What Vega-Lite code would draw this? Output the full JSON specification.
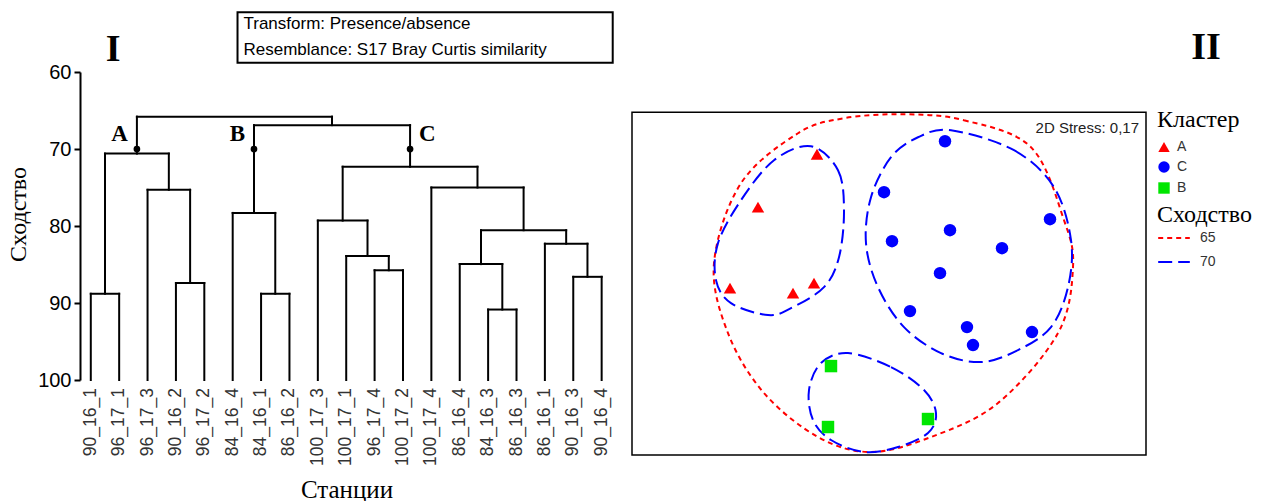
{
  "$schema": "https://vega.github.io/schema/vega-lite/v6.json",
  "padding": {"left": 6, "top": 11, "right": 0, "bottom": 0},
  "background": "white",
  "config": {"view": {"stroke": null}},
  "spacing": 17,
  "datasets": {
    "leaves": [
      {"i": 0, "name": "90_16_1"}, {"i": 1, "name": "96_17_1"}, {"i": 2, "name": "96_17_3"}, {"i": 3, "name": "90_16_2"},
      {"i": 4, "name": "96_17_2"}, {"i": 5, "name": "84_16_4"}, {"i": 6, "name": "84_16_1"}, {"i": 7, "name": "86_16_2"},
      {"i": 8, "name": "100_17_3"}, {"i": 9, "name": "100_17_1"}, {"i": 10, "name": "96_17_4"}, {"i": 11, "name": "100_17_2"},
      {"i": 12, "name": "100_17_4"}, {"i": 13, "name": "86_16_4"}, {"i": 14, "name": "84_16_3"}, {"i": 15, "name": "86_16_3"},
      {"i": 16, "name": "86_16_1"}, {"i": 17, "name": "90_16_3"}, {"i": 18, "name": "90_16_4"}
    ],
    "dendro": [
      {"x": 0, "x2": 1, "y": 88.8, "y2": 88.8}, {"x": 0, "x2": 0, "y": 100, "y2": 88.8}, {"x": 1, "x2": 1, "y": 100, "y2": 88.8},
      {"x": 3, "x2": 4, "y": 87.4, "y2": 87.4}, {"x": 3, "x2": 3, "y": 100, "y2": 87.4}, {"x": 4, "x2": 4, "y": 100, "y2": 87.4},
      {"x": 2, "x2": 3.5, "y": 75.3, "y2": 75.3}, {"x": 2, "x2": 2, "y": 100, "y2": 75.3}, {"x": 3.5, "x2": 3.5, "y": 87.4, "y2": 75.3},
      {"x": 0.5, "x2": 2.75, "y": 70.6, "y2": 70.6}, {"x": 0.5, "x2": 0.5, "y": 88.8, "y2": 70.6}, {"x": 2.75, "x2": 2.75, "y": 75.3, "y2": 70.6},
      {"x": 6, "x2": 7, "y": 88.8, "y2": 88.8}, {"x": 6, "x2": 6, "y": 100, "y2": 88.8}, {"x": 7, "x2": 7, "y": 100, "y2": 88.8},
      {"x": 5, "x2": 6.5, "y": 78.3, "y2": 78.3}, {"x": 5, "x2": 5, "y": 100, "y2": 78.3}, {"x": 6.5, "x2": 6.5, "y": 88.8, "y2": 78.3},
      {"x": 10, "x2": 11, "y": 85.75, "y2": 85.75}, {"x": 10, "x2": 10, "y": 100, "y2": 85.75}, {"x": 11, "x2": 11, "y": 100, "y2": 85.75},
      {"x": 9, "x2": 10.5, "y": 83.9, "y2": 83.9}, {"x": 9, "x2": 9, "y": 100, "y2": 83.9}, {"x": 10.5, "x2": 10.5, "y": 85.75, "y2": 83.9},
      {"x": 8, "x2": 9.75, "y": 79.3, "y2": 79.3}, {"x": 8, "x2": 8, "y": 100, "y2": 79.3}, {"x": 9.75, "x2": 9.75, "y": 83.9, "y2": 79.3},
      {"x": 14, "x2": 15, "y": 90.85, "y2": 90.85}, {"x": 14, "x2": 14, "y": 100, "y2": 90.85}, {"x": 15, "x2": 15, "y": 100, "y2": 90.85},
      {"x": 13, "x2": 14.5, "y": 84.95, "y2": 84.95}, {"x": 13, "x2": 13, "y": 100, "y2": 84.95}, {"x": 14.5, "x2": 14.5, "y": 90.85, "y2": 84.95},
      {"x": 17, "x2": 18, "y": 86.6, "y2": 86.6}, {"x": 17, "x2": 17, "y": 100, "y2": 86.6}, {"x": 18, "x2": 18, "y": 100, "y2": 86.6},
      {"x": 16, "x2": 17.5, "y": 82.3, "y2": 82.3}, {"x": 16, "x2": 16, "y": 100, "y2": 82.3}, {"x": 17.5, "x2": 17.5, "y": 86.6, "y2": 82.3},
      {"x": 13.75, "x2": 16.75, "y": 80.55, "y2": 80.55}, {"x": 13.75, "x2": 13.75, "y": 84.95, "y2": 80.55}, {"x": 16.75, "x2": 16.75, "y": 82.3, "y2": 80.55},
      {"x": 12, "x2": 15.25, "y": 75.0, "y2": 75.0}, {"x": 12, "x2": 12, "y": 100, "y2": 75.0}, {"x": 15.25, "x2": 15.25, "y": 80.55, "y2": 75.0},
      {"x": 8.875, "x2": 13.625, "y": 72.3, "y2": 72.3}, {"x": 8.875, "x2": 8.875, "y": 79.3, "y2": 72.3}, {"x": 13.625, "x2": 13.625, "y": 75.0, "y2": 72.3},
      {"x": 5.75, "x2": 11.25, "y": 66.9, "y2": 66.9}, {"x": 5.75, "x2": 5.75, "y": 78.3, "y2": 66.9}, {"x": 11.25, "x2": 11.25, "y": 72.3, "y2": 66.9},
      {"x": 1.625, "x2": 8.5, "y": 65.8, "y2": 65.8}, {"x": 1.625, "x2": 1.625, "y": 70.6, "y2": 65.8}, {"x": 8.5, "x2": 8.5, "y": 66.9, "y2": 65.8}
    ],
    "nodes": [
      {"cluster": "A", "x": 1.625, "y": 70},
      {"cluster": "B", "x": 5.75, "y": 70},
      {"cluster": "C", "x": 11.25, "y": 70}
    ],
    "nmds": [
      {"cluster": "A", "x": -0.72, "y": 1.28}, {"cluster": "A", "x": -1.31, "y": 0.75}, {"cluster": "A", "x": -1.59, "y": -0.06},
      {"cluster": "A", "x": -0.96, "y": -0.11}, {"cluster": "A", "x": -0.75, "y": -0.01},
      {"cluster": "C", "x": 0.56, "y": 1.41}, {"cluster": "C", "x": -0.05, "y": 0.90}, {"cluster": "C", "x": 1.61, "y": 0.63},
      {"cluster": "C", "x": 0.61, "y": 0.52}, {"cluster": "C", "x": 0.03, "y": 0.41}, {"cluster": "C", "x": 1.13, "y": 0.34},
      {"cluster": "C", "x": 0.51, "y": 0.09}, {"cluster": "C", "x": 0.21, "y": -0.29}, {"cluster": "C", "x": 0.78, "y": -0.45},
      {"cluster": "C", "x": 1.43, "y": -0.50}, {"cluster": "C", "x": 0.84, "y": -0.63},
      {"cluster": "B", "x": -0.58, "y": -0.84}, {"cluster": "B", "x": -0.61, "y": -1.45}, {"cluster": "B", "x": 0.39, "y": -1.37}
    ],
    "contours": [
      {"contour": "all", "level": "65", "i": 0, "x": 0.15, "y": 1.68},
      {"contour": "all", "level": "65", "i": 1, "x": 0.75, "y": 1.62},
      {"contour": "all", "level": "65", "i": 2, "x": 1.42, "y": 1.35},
      {"contour": "all", "level": "65", "i": 3, "x": 1.75, "y": 0.62},
      {"contour": "all", "level": "65", "i": 4, "x": 1.84, "y": 0.15},
      {"contour": "all", "level": "65", "i": 5, "x": 1.69, "y": -0.51},
      {"contour": "all", "level": "65", "i": 6, "x": 1.09, "y": -1.21},
      {"contour": "all", "level": "65", "i": 7, "x": 0.42, "y": -1.55},
      {"contour": "all", "level": "65", "i": 8, "x": -0.18, "y": -1.70},
      {"contour": "all", "level": "65", "i": 9, "x": -0.71, "y": -1.55},
      {"contour": "all", "level": "65", "i": 10, "x": -1.25, "y": -1.11},
      {"contour": "all", "level": "65", "i": 11, "x": -1.61, "y": -0.51},
      {"contour": "all", "level": "65", "i": 12, "x": -1.75, "y": 0.19},
      {"contour": "all", "level": "65", "i": 13, "x": -1.48, "y": 0.99},
      {"contour": "all", "level": "65", "i": 14, "x": -0.91, "y": 1.49},
      {"contour": "all", "level": "65", "i": 15, "x": -0.45, "y": 1.64},
      {"contour": "A", "level": "70", "i": 0, "x": -0.78, "y": 1.36},
      {"contour": "A", "level": "70", "i": 1, "x": -0.51, "y": 1.12},
      {"contour": "A", "level": "70", "i": 2, "x": -0.45, "y": 0.72},
      {"contour": "A", "level": "70", "i": 3, "x": -0.50, "y": 0.25},
      {"contour": "A", "level": "70", "i": 4, "x": -0.65, "y": -0.05},
      {"contour": "A", "level": "70", "i": 5, "x": -0.98, "y": -0.26},
      {"contour": "A", "level": "70", "i": 6, "x": -1.21, "y": -0.33},
      {"contour": "A", "level": "70", "i": 7, "x": -1.58, "y": -0.21},
      {"contour": "A", "level": "70", "i": 8, "x": -1.73, "y": 0.02},
      {"contour": "A", "level": "70", "i": 9, "x": -1.71, "y": 0.39},
      {"contour": "A", "level": "70", "i": 10, "x": -1.48, "y": 0.82},
      {"contour": "A", "level": "70", "i": 11, "x": -1.15, "y": 1.22},
      {"contour": "C", "level": "70", "i": 0, "x": 0.62, "y": 1.52},
      {"contour": "C", "level": "70", "i": 1, "x": 1.25, "y": 1.32},
      {"contour": "C", "level": "70", "i": 2, "x": 1.65, "y": 0.95},
      {"contour": "C", "level": "70", "i": 3, "x": 1.82, "y": 0.42},
      {"contour": "C", "level": "70", "i": 4, "x": 1.79, "y": -0.05},
      {"contour": "C", "level": "70", "i": 5, "x": 1.62, "y": -0.45},
      {"contour": "C", "level": "70", "i": 6, "x": 1.29, "y": -0.68},
      {"contour": "C", "level": "70", "i": 7, "x": 0.92, "y": -0.80},
      {"contour": "C", "level": "70", "i": 8, "x": 0.52, "y": -0.71},
      {"contour": "C", "level": "70", "i": 9, "x": 0.15, "y": -0.45},
      {"contour": "C", "level": "70", "i": 10, "x": -0.11, "y": -0.05},
      {"contour": "C", "level": "70", "i": 11, "x": -0.23, "y": 0.39},
      {"contour": "C", "level": "70", "i": 12, "x": -0.18, "y": 0.85},
      {"contour": "C", "level": "70", "i": 13, "x": 0.02, "y": 1.25},
      {"contour": "C", "level": "70", "i": 14, "x": 0.29, "y": 1.45},
      {"contour": "B", "level": "70", "i": 0, "x": -0.41, "y": -0.71},
      {"contour": "B", "level": "70", "i": 1, "x": 0.02, "y": -0.85},
      {"contour": "B", "level": "70", "i": 2, "x": 0.35, "y": -1.08},
      {"contour": "B", "level": "70", "i": 3, "x": 0.47, "y": -1.31},
      {"contour": "B", "level": "70", "i": 4, "x": 0.39, "y": -1.51},
      {"contour": "B", "level": "70", "i": 5, "x": 0.09, "y": -1.65},
      {"contour": "B", "level": "70", "i": 6, "x": -0.25, "y": -1.70},
      {"contour": "B", "level": "70", "i": 7, "x": -0.58, "y": -1.58},
      {"contour": "B", "level": "70", "i": 8, "x": -0.76, "y": -1.38},
      {"contour": "B", "level": "70", "i": 9, "x": -0.80, "y": -1.08},
      {"contour": "B", "level": "70", "i": 10, "x": -0.68, "y": -0.81}
    ]
  },
  "hconcat": [
    {
      "width": 533,
      "height": 308,
      "layer": [
        {
          "data": {"name": "dendro"},
          "mark": {"type": "rule", "color": "black", "strokeWidth": 2, "strokeCap": "square"},
          "encoding": {
            "x": {
              "field": "x", "type": "quantitative",
              "scale": {"domain": [-0.38, 18.4], "nice": false, "zero": false},
              "axis": {
                "title": "Станции", "labels": false, "domain": false, "ticks": false, "grid": false,
                "titleFont": "Liberation Serif", "titleFontSize": 25, "titleFontWeight": "normal", "titleColor": "black", "titlePadding": 97
              }
            },
            "x2": {"field": "x2"},
            "y": {
              "field": "y", "type": "quantitative",
              "scale": {"domain": [60, 100], "reverse": true, "nice": false, "zero": false},
              "axis": {
                "title": "Сходство", "values": [60, 70, 80, 90, 100], "grid": false,
                "domainColor": "black", "domainWidth": 2, "tickColor": "black", "tickWidth": 2, "tickSize": 6,
                "labelFont": "Liberation Sans", "labelFontSize": 20, "labelColor": "black", "labelPadding": 3,
                "titleFont": "Liberation Serif", "titleFontSize": 24, "titleFontWeight": "normal", "titleColor": "black", "titlePadding": 7, "titleY": 142
              }
            },
            "y2": {"field": "y2"}
          }
        },
        {
          "data": {"name": "leaves"},
          "mark": {"type": "text", "angle": 270, "align": "right", "baseline": "middle", "dx": -8, "font": "Liberation Sans", "fontSize": 17.5, "color": "#333"},
          "encoding": {
            "x": {"field": "i", "type": "quantitative"},
            "y": {"datum": 100, "type": "quantitative"},
            "text": {"field": "name"}
          }
        },
        {
          "data": {"name": "nodes"},
          "mark": {"type": "circle", "color": "black", "size": 45, "opacity": 1},
          "encoding": {
            "x": {"field": "x", "type": "quantitative"},
            "y": {"field": "y", "type": "quantitative"}
          }
        },
        {
          "data": {"name": "nodes"},
          "transform": [{"filter": "datum.cluster != 'C'"}],
          "mark": {"type": "text", "align": "right", "baseline": "middle", "dx": -9, "dy": -15, "font": "Liberation Serif", "fontSize": 23, "fontWeight": "bold", "color": "black"},
          "encoding": {
            "x": {"field": "x", "type": "quantitative"},
            "y": {"field": "y", "type": "quantitative"},
            "text": {"field": "cluster"}
          }
        },
        {
          "data": {"name": "nodes"},
          "transform": [{"filter": "datum.cluster == 'C'"}],
          "mark": {"type": "text", "align": "left", "baseline": "middle", "dx": 9, "dy": -15, "font": "Liberation Serif", "fontSize": 23, "fontWeight": "bold", "color": "black"},
          "encoding": {
            "x": {"field": "x", "type": "quantitative"},
            "y": {"field": "y", "type": "quantitative"},
            "text": {"field": "cluster"}
          }
        },
        {
          "data": {"values": [{"label": "I"}]},
          "mark": {"type": "text", "align": "center", "baseline": "middle", "font": "Liberation Serif", "fontSize": 38, "fontWeight": "bold", "color": "black"},
          "encoding": {
            "x": {"datum": 0.79, "type": "quantitative"},
            "y": {"datum": 57.2, "type": "quantitative"},
            "text": {"field": "label"}
          }
        },
        {
          "data": {"values": [{}]},
          "mark": {"type": "rect", "fill": null, "stroke": "black", "strokeWidth": 2},
          "encoding": {
            "x": {"datum": 5.17, "type": "quantitative"},
            "x2": {"datum": 18.39},
            "y": {"datum": 52.25, "type": "quantitative"},
            "y2": {"datum": 58.8}
          }
        },
        {
          "data": {"values": [{"line": "Transform: Presence/absence", "row": 53.8}, {"line": "Resemblance: S17 Bray Curtis similarity", "row": 57.1}]},
          "mark": {"type": "text", "align": "left", "baseline": "middle", "font": "Liberation Sans", "fontSize": 17, "color": "black"},
          "encoding": {
            "x": {"datum": 5.38, "type": "quantitative"},
            "y": {"field": "row", "type": "quantitative"},
            "text": {"field": "line"}
          }
        }
      ]
    },
    {
      "width": 514,
      "height": 383,
      "layer": [
        {
          "data": {"values": [{}]},
          "mark": {"type": "rect", "fill": null, "stroke": "black", "strokeWidth": 1.5},
          "encoding": {
            "x": {"datum": -2.57, "type": "quantitative", "scale": {"domain": [-2.57, 2.57], "nice": false, "zero": false}, "axis": null},
            "x2": {"datum": 2.57},
            "y": {"datum": -1.73, "type": "quantitative", "scale": {"domain": [-1.73, 2.103], "nice": false, "zero": false}, "axis": null},
            "y2": {"datum": 1.70}
          }
        },
        {
          "data": {"name": "contours"},
          "mark": {"type": "line", "interpolate": "cardinal-closed", "strokeWidth": 2},
          "encoding": {
            "x": {"field": "x", "type": "quantitative"},
            "y": {"field": "y", "type": "quantitative"},
            "detail": {"field": "contour"},
            "order": {"field": "i", "type": "quantitative"},
            "stroke": {
              "field": "level", "type": "nominal",
              "scale": {"domain": ["65", "70"], "range": ["#ff0000", "#0000ff"]},
              "legend": {
                "title": "Сходство", "orient": "none", "legendX": 1077, "legendY": 131,
                "titleFont": "Liberation Serif", "titleFontSize": 24, "titleFontWeight": "normal", "titleColor": "black", "titlePadding": -6,
                "labelFont": "Liberation Sans", "labelFontSize": 14, "labelColor": "#333", "labelOffset": 9,
                "symbolType": "stroke", "symbolSize": 1000, "symbolStrokeWidth": 2, "rowPadding": -14
              }
            },
            "strokeDash": {
              "field": "level", "type": "nominal",
              "scale": {"domain": ["65", "70"], "range": [[5, 4], [14, 6]]},
              "legend": {
                "title": "Сходство", "orient": "none", "legendX": 1077, "legendY": 131,
                "titleFont": "Liberation Serif", "titleFontSize": 24, "titleFontWeight": "normal", "titleColor": "black", "titlePadding": -6,
                "labelFont": "Liberation Sans", "labelFontSize": 14, "labelColor": "#333", "labelOffset": 9,
                "symbolType": "stroke", "symbolSize": 1000, "symbolStrokeWidth": 2, "rowPadding": -14
              }
            }
          }
        },
        {
          "data": {"name": "nmds"},
          "mark": {"type": "point", "filled": true, "opacity": 1, "size": 155},
          "encoding": {
            "x": {"field": "x", "type": "quantitative"},
            "y": {"field": "y", "type": "quantitative"},
            "fill": {
              "field": "cluster", "type": "nominal",
              "scale": {"domain": ["A", "C", "B"], "range": ["#ff0000", "#0000ff", "#00e600"]},
              "legend": {
                "title": "Кластер", "orient": "none", "legendX": 1077, "legendY": 36,
                "titleFont": "Liberation Serif", "titleFontSize": 24, "titleFontWeight": "normal", "titleColor": "black", "titlePadding": 8,
                "labelFont": "Liberation Sans", "labelFontSize": 14, "labelColor": "#333", "labelOffset": 6,
                "symbolSize": 130, "rowPadding": 3
              }
            },
            "shape": {
              "field": "cluster", "type": "nominal",
              "scale": {"domain": ["A", "C", "B"], "range": ["triangle-up", "circle", "square"]},
              "legend": {
                "title": "Кластер", "orient": "none", "legendX": 1077, "legendY": 36,
                "titleFont": "Liberation Serif", "titleFontSize": 24, "titleFontWeight": "normal", "titleColor": "black", "titlePadding": 8,
                "labelFont": "Liberation Sans", "labelFontSize": 14, "labelColor": "#333", "labelOffset": 6,
                "symbolSize": 130, "rowPadding": 3
              }
            }
          }
        },
        {
          "data": {"values": [{"label": "2D Stress: 0,17"}]},
          "mark": {"type": "text", "align": "right", "baseline": "middle", "font": "Liberation Sans", "fontSize": 15, "color": "#222"},
          "encoding": {
            "x": {"datum": 2.5, "type": "quantitative"},
            "y": {"datum": 1.54, "type": "quantitative"},
            "text": {"field": "label"}
          }
        },
        {
          "data": {"values": [{"label": "II"}]},
          "mark": {"type": "text", "align": "center", "baseline": "middle", "font": "Liberation Serif", "fontSize": 38, "fontWeight": "bold", "color": "black"},
          "encoding": {
            "x": {"datum": 3.17, "type": "quantitative"},
            "y": {"datum": 2.34, "type": "quantitative"},
            "text": {"field": "label"}
          }
        }
      ]
    }
  ]
}
